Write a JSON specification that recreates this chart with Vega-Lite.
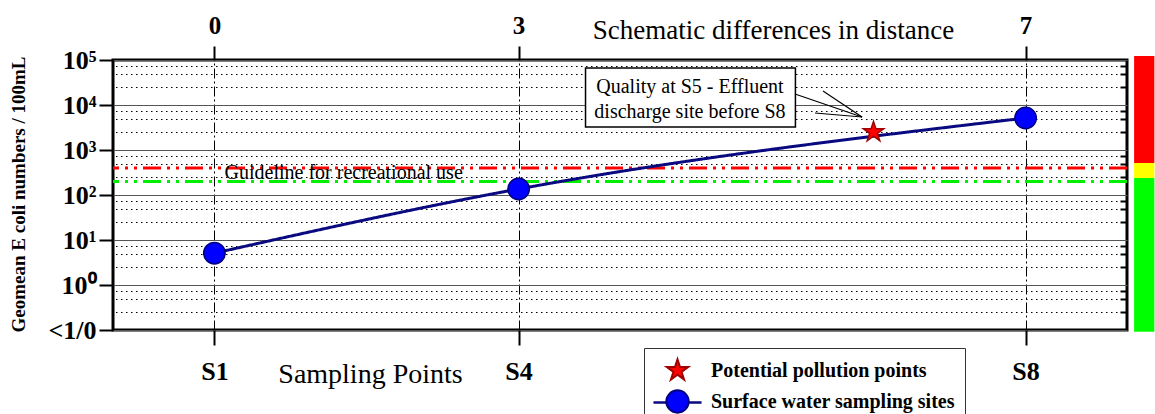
{
  "$schema": "https://vega.github.io/schema/vega-lite/v6.json",
  "width": 1014,
  "height": 270,
  "autosize": {"type": "none"},
  "padding": {"left": 113, "top": 60, "right": 28, "bottom": 84},
  "background": "white",
  "config": {
    "font": "Liberation Serif",
    "view": {"stroke": "black", "strokeWidth": 3},
    "axis": {"domain": false, "labelColor": "black", "titleColor": "black", "tickColor": "black", "labelFont": "Liberation Serif", "titleFont": "Liberation Serif"}
  },
  "datasets": {
    "points": [
      {"site": "S1", "pos": 1, "ecoli": 5.1, "type": "Surface water sampling sites"},
      {"site": "S4", "pos": 4, "ecoli": 136, "type": "Surface water sampling sites"},
      {"site": "S8", "pos": 9, "ecoli": 5140, "type": "Surface water sampling sites"},
      {"site": "S5", "pos": 7.5, "ecoli": 2500, "type": "Potential pollution points"}
    ],
    "bands": [
      {"level": "unsafe", "x0": 10.07, "x1": 10.27, "lo": 515, "hi": 123000},
      {"level": "caution", "x0": 10.07, "x1": 10.27, "lo": 239, "hi": 515},
      {"level": "safe", "x0": 10.07, "x1": 10.27, "lo": 0.091, "hi": 239}
    ],
    "guides": [
      {"guideline": "upper", "ecoli": 400},
      {"guideline": "lower", "ecoli": 200}
    ],
    "guidetext": [
      {"text": "Guideline for recreational use", "pos": 1.1, "ecoli": 310}
    ],
    "notebox": [
      {"x0": 4.66, "x1": 6.73, "lo": 3250, "hi": 66000}
    ],
    "note": [
      {"text": "Quality at S5 - Effluent", "pos": 5.69, "ecoli": 25000},
      {"text": "discharge site before S8", "pos": 5.69, "ecoli": 7000}
    ],
    "arrows": [
      {"x0": 6.726, "y0": 17550, "x1": 7.387, "y1": 5410},
      {"x0": 7.002, "y0": 20470, "x1": 7.387, "y1": 5410},
      {"x0": 6.923, "y0": 6640, "x1": 7.387, "y1": 5410}
    ]
  },
  "resolve": {"axis": {"x": "independent", "y": "independent"}, "scale": {"color": "independent"}},
  "layer": [
    {
      "data": {"name": "bands"},
      "mark": {"type": "rect", "clip": false},
      "encoding": {
        "x": {"field": "x0", "type": "quantitative", "scale": {"domain": [0, 10], "nice": false, "zero": false}, "axis": null},
        "x2": {"field": "x1"},
        "y": {"field": "lo", "type": "quantitative", "scale": {"type": "log", "domain": [0.1, 100000], "nice": false},
          "axis": {"orient": "right", "values": [0.25, 0.5, 0.75, 2.5, 5, 7.5, 25, 50, 75, 250, 500, 750, 2500, 5000, 7500, 25000, 50000, 75000],
            "labels": false, "ticks": true, "tickSize": -7, "tickWidth": 2, "tickColor": "black",
            "grid": true, "gridDash": [1.5, 3.5], "gridColor": "black", "gridWidth": 1.2, "gridOpacity": 1, "title": null}},
        "y2": {"field": "hi"},
        "color": {"field": "level", "type": "nominal", "scale": {"domain": ["unsafe", "caution", "safe"], "range": ["#ff0000", "#ffff00", "#00ff00"]}, "legend": null}
      }
    },
    {
      "data": {"name": "guides"},
      "mark": {"type": "rule", "strokeWidth": 3, "strokeDash": [18, 6, 3, 6, 3, 6]},
      "encoding": {
        "y": {"field": "ecoli", "type": "quantitative", "scale": {"type": "log", "domain": [0.1, 100000], "nice": false}, "axis": null},
        "color": {"field": "guideline", "type": "nominal", "scale": {"domain": ["upper", "lower"], "range": ["#ff0000", "#00ee00"]}, "legend": null}
      }
    },
    {
      "data": {"name": "guidetext"},
      "mark": {"type": "text", "align": "left", "baseline": "middle", "fontSize": 20, "font": "Liberation Serif", "color": "black"},
      "encoding": {
        "x": {"field": "pos", "type": "quantitative", "scale": {"domain": [0, 10], "nice": false, "zero": false}, "axis": null},
        "y": {"field": "ecoli", "type": "quantitative", "scale": {"type": "log", "domain": [0.1, 100000], "nice": false}, "axis": null},
        "text": {"field": "text"}
      }
    },
    {
      "data": {"name": "points"},
      "transform": [{"filter": "datum.type === 'Surface water sampling sites'"}],
      "mark": {"type": "line", "interpolate": "monotone", "color": "#0a0a80", "strokeWidth": 3},
      "encoding": {
        "x": {"field": "pos", "type": "quantitative", "scale": {"domain": [0, 10], "nice": false, "zero": false},
          "axis": {"orient": "top", "values": [1, 4, 9], "labelExpr": "datum.value == 1 ? '0' : datum.value == 4 ? '3' : '7'",
            "labelFontSize": 25, "labelFontWeight": "bold", "tickSize": 14, "tickWidth": 2, "labelPadding": 8,
            "grid": true, "gridDash": [10, 3, 2, 3], "gridColor": "black", "gridWidth": 1, "gridOpacity": 1,
            "title": "Schematic differences in distance", "titleFontSize": 27, "titleFontWeight": "normal",
            "titleX": 660, "titleY": -22, "titleAlign": "center", "titleBaseline": "alphabetic"}},
        "y": {"field": "ecoli", "type": "quantitative", "scale": {"type": "log", "domain": [0.1, 100000], "nice": false},
          "axis": {"orient": "left", "values": [0.1, 1, 10, 100, 1000, 10000, 100000],
            "labelExpr": "datum.value < 0.5 ? '<1/0' : '10' + ['⁰','¹','²','³','⁴','⁵'][round(log(datum.value)/LN10)]",
            "labelFontSize": 26, "labelFontWeight": "bold", "tickSize": 14, "tickWidth": 2, "labelPadding": 3,
            "grid": true, "gridColor": "#555", "gridWidth": 1.2, "gridOpacity": 1,
            "title": "Geomean E coli numbers / 100mL", "titleFontSize": 19, "titleFontWeight": "bold",
            "titleX": -95, "titleY": 134, "titleAngle": -90, "titleAlign": "center", "titleBaseline": "middle"}},
        "strokeDash": {"field": "type", "type": "nominal",
          "scale": {"domain": ["Surface water sampling sites"], "range": [[1, 0]]},
          "legend": {"orient": "none", "legendX": 531, "legendY": 330, "title": null, "labelExpr": "''", "labelFontSize": 1,
            "padding": 0, "symbolType": "M-2.15,0L-0.85,0M0.85,0L2.15,0", "symbolSize": 500, "symbolOffset": 21,
            "symbolStrokeWidth": 2.5, "symbolStrokeColor": "#0a0a80"}}
      }
    },
    {
      "data": {"name": "points"},
      "mark": {"type": "point", "filled": true, "size": 460, "strokeWidth": 1.5, "opacity": 1},
      "encoding": {
        "x": {"field": "pos", "type": "quantitative", "scale": {"domain": [0, 10], "nice": false, "zero": false},
          "axis": {"orient": "bottom", "values": [1, 4, 9], "labelExpr": "datum.value == 1 ? 'S1' : datum.value == 4 ? 'S4' : 'S8'",
            "labelFontSize": 26, "labelFontWeight": "bold", "tickSize": 15, "tickWidth": 2, "labelPadding": 13, "grid": false,
            "title": "Sampling Points", "titleFontSize": 28, "titleFontWeight": "normal",
            "titleX": 257, "titleY": 52, "titleAlign": "center", "titleBaseline": "alphabetic"}},
        "y": {"field": "ecoli", "type": "quantitative", "scale": {"type": "log", "domain": [0.1, 100000], "nice": false}, "axis": null},
        "shape": {"field": "type", "type": "nominal",
          "scale": {"domain": ["Potential pollution points", "Surface water sampling sites"],
            "range": ["M0,-1L0.225,-0.309L0.951,-0.309L0.363,0.118L0.588,0.809L0,0.382L-0.588,0.809L-0.363,0.118L-0.951,-0.309L-0.225,-0.309Z", "circle"]},
          "legend": {"orient": "none", "legendX": 531, "legendY": 288, "title": null, "direction": "vertical",
            "labelFontSize": 20, "labelFontWeight": "bold", "labelFont": "Liberation Serif", "labelColor": "black", "labelLimit": 500,
            "padding": 10, "strokeColor": "#333", "rowPadding": 2,
            "symbolSize": 500, "symbolStrokeWidth": 2, "symbolOffset": 11, "labelOffset": 21}},
        "fill": {"field": "type", "type": "nominal",
          "scale": {"domain": ["Potential pollution points", "Surface water sampling sites"], "range": ["#ff0000", "#0000ff"]}},
        "stroke": {"field": "type", "type": "nominal",
          "scale": {"domain": ["Potential pollution points", "Surface water sampling sites"], "range": ["#a00000", "#000080"]}}
      }
    },
    {
      "data": {"name": "notebox"},
      "mark": {"type": "rect", "fill": "white", "stroke": "black", "strokeWidth": 1.5},
      "encoding": {
        "x": {"field": "x0", "type": "quantitative", "scale": {"domain": [0, 10], "nice": false, "zero": false}, "axis": null},
        "x2": {"field": "x1"},
        "y": {"field": "lo", "type": "quantitative", "scale": {"type": "log", "domain": [0.1, 100000], "nice": false}, "axis": null},
        "y2": {"field": "hi"}
      }
    },
    {
      "data": {"name": "note"},
      "mark": {"type": "text", "align": "center", "baseline": "middle", "fontSize": 20, "font": "Liberation Serif", "color": "black"},
      "encoding": {
        "x": {"field": "pos", "type": "quantitative", "scale": {"domain": [0, 10], "nice": false, "zero": false}, "axis": null},
        "y": {"field": "ecoli", "type": "quantitative", "scale": {"type": "log", "domain": [0.1, 100000], "nice": false}, "axis": null},
        "text": {"field": "text"}
      }
    },
    {
      "data": {"name": "arrows"},
      "mark": {"type": "rule", "color": "black", "strokeWidth": 1.2},
      "encoding": {
        "x": {"field": "x0", "type": "quantitative", "scale": {"domain": [0, 10], "nice": false, "zero": false}, "axis": null},
        "x2": {"field": "x1"},
        "y": {"field": "y0", "type": "quantitative", "scale": {"type": "log", "domain": [0.1, 100000], "nice": false}, "axis": null},
        "y2": {"field": "y1"}
      }
    }
  ]
}
